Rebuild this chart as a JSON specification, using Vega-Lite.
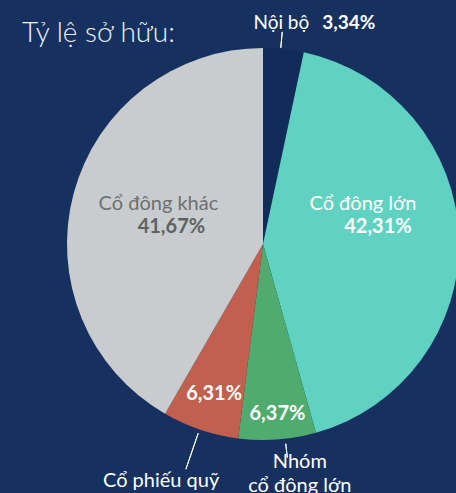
{
  "$schema": "https://vega.github.io/schema/vega-lite/v6.json",
  "width": 378,
  "height": 390,
  "autosize": {"type": "none"},
  "padding": {"left": 74, "top": 49, "right": 4, "bottom": 54},
  "background": "#163160",
  "config": {"view": {"stroke": null}, "font": "Lato"},
  "title": {
    "text": "Tỷ lệ sở hữu:",
    "anchor": "start",
    "frame": "group",
    "fontSize": 28,
    "fontWeight": 300,
    "color": "#eef1f6",
    "font": "Lato",
    "dx": -52,
    "dy": 92,
    "offset": 7,
    "baseline": "alphabetic"
  },
  "data": {
    "values": [
      {"label": "Nội bộ", "value": 3.34, "pct": "3,34%", "order": 1},
      {"label": "Cổ đông lớn", "value": 42.31, "pct": "42,31%", "order": 2},
      {"label": "Nhóm\ncổ đông lớn", "value": 6.37, "pct": "6,37%", "order": 3},
      {"label": "Cổ phiếu quỹ", "value": 6.31, "pct": "6,31%", "order": 4},
      {"label": "Cổ đông khác", "value": 41.67, "pct": "41,67%", "order": 5}
    ]
  },
  "encoding": {
    "theta": {"field": "value", "type": "quantitative", "stack": true},
    "order": {"field": "order", "type": "quantitative"},
    "detail": {"field": "label", "type": "nominal"}
  },
  "layer": [
    {
      "mark": {"type": "arc", "outerRadius": 196},
      "encoding": {
        "color": {
          "field": "label",
          "type": "nominal",
          "legend": null,
          "scale": {
            "domain": ["Nội bộ", "Cổ đông lớn", "Nhóm\ncổ đông lớn", "Cổ phiếu quỹ", "Cổ đông khác"],
            "range": ["#122c5a", "#5fd2c1", "#4fab6e", "#c1604f", "#c8ccce"]
          }
        }
      }
    },
    {
      "transform": [
        {"stack": "value", "sort": [{"field": "order"}], "groupby": [], "as": ["v0", "v1"]},
        {"filter": "datum.order === 1"}
      ],
      "mark": {"type": "arc", "outerRadius": 213, "innerRadius": 197, "thetaOffset": 0.0904, "theta2Offset": 0.0904, "fill": "transparent", "stroke": "#ffffff", "strokeWidth": 1},
      "encoding": {
        "theta": {"field": "v0", "type": "quantitative", "stack": null},
        "theta2": {"field": "v0"}
      }
    },
    {
      "transform": [
        {"stack": "value", "sort": [{"field": "order"}], "groupby": [], "as": ["v0", "v1"]},
        {"filter": "datum.order === 3"}
      ],
      "mark": {"type": "arc", "outerRadius": 215, "innerRadius": 201, "thetaOffset": 0.1599, "theta2Offset": 0.1599, "fill": "transparent", "stroke": "#ffffff", "strokeWidth": 1},
      "encoding": {
        "theta": {"field": "v0", "type": "quantitative", "stack": null},
        "theta2": {"field": "v0"}
      }
    },
    {
      "transform": [
        {"stack": "value", "sort": [{"field": "order"}], "groupby": [], "as": ["v0", "v1"]},
        {"filter": "datum.order === 4"}
      ],
      "mark": {"type": "arc", "outerRadius": 238, "innerRadius": 200, "thetaOffset": 0.2029, "theta2Offset": 0.2029, "fill": "transparent", "stroke": "#ffffff", "strokeWidth": 1},
      "encoding": {
        "theta": {"field": "v0", "type": "quantitative", "stack": null},
        "theta2": {"field": "v0"}
      }
    },
    {
      "mark": {"type": "text", "radius": 222, "align": "right", "baseline": "alphabetic", "dx": 23, "dy": 6, "fontSize": 19, "fill": "#ffffff"},
      "encoding": {"text": {"condition": {"test": "datum.order === 1", "field": "label"}, "value": ""}}
    },
    {
      "mark": {"type": "text", "radius": 222, "align": "left", "baseline": "alphabetic", "dx": 36, "dy": 6, "fontSize": 19, "fontWeight": "bold", "fill": "#ffffff"},
      "encoding": {"text": {"condition": {"test": "datum.order === 1", "field": "pct"}, "value": ""}}
    },
    {
      "mark": {"type": "text", "radius": 100, "align": "center", "baseline": "alphabetic", "dx": 0, "dy": -31, "fontSize": 20, "fill": "#ffffff"},
      "encoding": {"text": {"condition": {"test": "datum.order === 2", "field": "label"}, "value": ""}}
    },
    {
      "mark": {"type": "text", "radius": 100, "align": "center", "baseline": "alphabetic", "dx": 15, "dy": -8, "fontSize": 20, "fontWeight": "bold", "fill": "#ffffff"},
      "encoding": {"text": {"condition": {"test": "datum.order === 2", "field": "pct"}, "value": ""}}
    },
    {
      "mark": {"type": "text", "radius": 100, "align": "center", "baseline": "alphabetic", "dx": -8, "dy": -8, "fontSize": 20, "fill": "#6d7072"},
      "encoding": {"text": {"condition": {"test": "datum.order === 5", "field": "label"}, "value": ""}}
    },
    {
      "mark": {"type": "text", "radius": 100, "align": "center", "baseline": "alphabetic", "dx": 5, "dy": 14.5, "fontSize": 20, "fontWeight": "bold", "fill": "#5f6264"},
      "encoding": {"text": {"condition": {"test": "datum.order === 5", "field": "pct"}, "value": ""}}
    },
    {
      "mark": {"type": "text", "radius": 156, "align": "center", "baseline": "alphabetic", "dx": 1, "dy": 8, "fontSize": 20, "fontWeight": "bold", "fill": "#ffffff"},
      "encoding": {"text": {"condition": {"test": "datum.order === 4", "field": "pct"}, "value": ""}}
    },
    {
      "mark": {"type": "text", "radius": 170, "align": "center", "baseline": "alphabetic", "dx": 2, "dy": 6.5, "fontSize": 20, "fontWeight": "bold", "fill": "#ffffff"},
      "encoding": {"text": {"condition": {"test": "datum.order === 3", "field": "pct"}, "value": ""}}
    },
    {
      "mark": {"type": "text", "radius": 250, "align": "center", "baseline": "alphabetic", "dx": -22, "dy": 6, "fontSize": 20, "fill": "#ffffff"},
      "encoding": {"text": {"condition": {"test": "datum.order === 4", "field": "label"}, "value": ""}}
    },
    {
      "mark": {"type": "text", "radius": 230, "align": "center", "baseline": "alphabetic", "dx": 20, "dy": -5.4, "fontSize": 20, "lineBreak": "\n", "lineHeight": 24, "fill": "#ffffff"},
      "encoding": {"text": {"condition": {"test": "datum.order === 3", "field": "label"}, "value": ""}}
    }
  ]
}
